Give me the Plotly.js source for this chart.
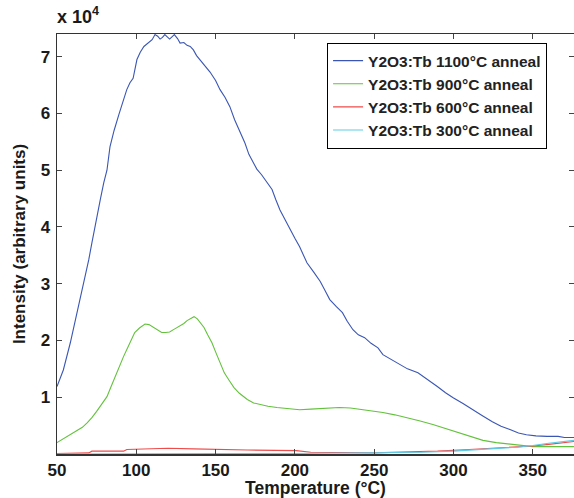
<!DOCTYPE html>
<html>
<head>
<meta charset="utf-8">
<script src="https://cdn.plot.ly/plotly-3.0.1.min.js"></script>
<style>html,body{margin:0;padding:0;background:#fff;}#chart{width:574px;height:498px;}</style>
</head>
<body>
<div id="chart"></div>
<script>
const seriesNames = ["Y2O3:Tb 1100°C anneal", "Y2O3:Tb 900°C anneal", "Y2O3:Tb 600°C anneal", "Y2O3:Tb 300°C anneal"];

const blueX = [50,54,58.4,61,64.7,67,70,72,74.2,77.3,79.5,81.5,83.4,86,89,91.5,94,96,98,100.4,102.5,104.8,106.5,108,110,111.8,113.5,115,116.5,118,119.5,121,122.5,124,126,127.6,130,132,134,136,138,140,143,146.5,150,152.8,156,159,162,165,168.5,171,173.6,176,179,182,185.6,188,190.6,194,197,200,203,205,207.6,212,216,219,222,226,230,233,236.6,240,244,248,252.4,255.5,260,266,271,277.6,284,289.8,295,299.8,306,312,318,324.5,330,335.6,341,346,352,359,366,370,376];
const blueY = [11900,14800,19600,22800,27200,30000,34200,37200,40100,44800,47800,50000,54100,57000,59800,62200,64200,65400,66200,69500,70800,71800,72200,72600,73000,73900,73600,73100,73400,73900,73500,73100,73500,73900,73200,72400,72500,72000,71800,71200,70200,69500,68500,67300,65800,64200,62800,61200,58900,57000,54800,52800,51300,50200,49200,48000,46600,44800,43000,41200,39500,38000,36500,35200,33700,32000,30400,28800,27200,26000,24900,23400,21900,21000,20500,19500,18700,17500,16800,15800,15000,14300,13100,11900,10800,9900,8900,7800,6800,5700,4900,4300,3700,3400,3200,3100,3100,2900,2900];

const greenX = [50,53,56.3,59.5,62.6,66,69,72,75,78,81.5,84,86.6,89,92,95.5,99,102,105.5,108,111,113.5,116,118.5,121,124,127,130,132,134.5,136.4,138.5,140.5,142.7,145,147.7,150,152.8,155.5,158.5,161.6,165,170,174,178,183,188.7,195,200,203,210,218,228,235,243,250,255.5,263,270.7,279,287,295,302,310,318.6,327,335.6,343,350,360,368,376];
const greenY = [2000,2500,3100,3500,4000,4700,5500,6400,7500,8600,10100,11800,13600,15200,17200,19300,21400,22200,22900,22800,22300,21800,21400,21400,21500,22000,22500,23000,23500,23900,24200,23800,23100,22300,21000,19600,18000,16100,14300,13000,11700,10700,9600,9000,8700,8400,8200,8000,7900,7800,7900,8000,8200,8100,7800,7600,7300,6900,6400,5800,5200,4500,3800,3100,2400,2000,1700,1500,1300,1300,1300,1300];

const redX = [50,70,72,92,94,110,120,136,150,170,201,210,250,270,290,310,330,350,360,376];
const redY = [100,200,500,500,800,900,1000,900,800,700,600,300,200,300,500,800,1100,1400,1700,2200];

const cyanX = [50,100,150,200,250,280,300,320,340,350,360,376];
const cyanY = [0,100,100,100,200,300,500,800,1200,1500,1900,2400];

const colors = ["#3a56b4", "#63c23c", "#ee4b4b", "#5ccbe6"];
const xs = [blueX, greenX, redX, cyanX];
const ys = [blueY, greenY, redY, cyanY];

const traces = seriesNames.map((name, i) => ({
  x: xs[i], y: ys[i], name: "<b>" + name + "</b>", type: "scatter", mode: "lines",
  line: {color: colors[i], width: 1.1}
}));

const xTicks = [50,100,150,200,250,300,350];
const yTicks = [10000,20000,30000,40000,50000,60000,70000];
const yTickText = ["1","2","3","4","5","6","7"];

const fontFam = "Liberation Sans";

const layout = {
  width: 574, height: 498,
  margin: {l: 57, r: 0, t: 34, b: 44},
  paper_bgcolor: "#ffffff", plot_bgcolor: "#ffffff",
  showlegend: true,
  legend: {
    x: 0.522, y: 0.979, xanchor: "left", yanchor: "top",
    bgcolor: "#ffffff", bordercolor: "#000000", borderwidth: 1.2,
    font: {family: fontFam, size: 15.5, color: "#222"},
    traceorder: "normal"
  },
  xaxis: {
    range: [50, 376], tickvals: xTicks, ticktext: xTicks.map(v => "<b>" + v + "</b>"),
    ticks: "inside", ticklen: 5, tickcolor: "#444", tickwidth: 1,
    showline: true, linecolor: "#333", linewidth: 1.5, mirror: "ticks",
    showgrid: false, zeroline: false,
    tickfont: {family: fontFam, size: 17, color: "#1a1a1a", weight: 700},
    title: {text: "<b>Temperature (°C)</b>", font: {family: fontFam, size: 17.5, color: "#1a1a1a"}, standoff: 6}
  },
  yaxis: {
    range: [0, 74000], tickvals: yTicks, ticktext: yTickText.map(v => "<b>" + v + "</b>"),
    ticks: "inside", ticklen: 5, tickcolor: "#444", tickwidth: 1,
    showline: true, linecolor: "#333", linewidth: 1.5, mirror: "ticks",
    showgrid: false, zeroline: false,
    tickfont: {family: fontFam, size: 17, color: "#1a1a1a", weight: 700},
    ticklabelstandoff: 2,
    title: {text: "<b>Intensity (arbitrary units)</b>", font: {family: fontFam, size: 17, color: "#1a1a1a"}, standoff: 10}
  },
  annotations: [{
    xref: "paper", yref: "paper", x: -0.003, y: 1.045, xanchor: "left", yanchor: "middle",
    text: "<b>x 10</b><sup><b>4</b></sup>", showarrow: false,
    font: {family: fontFam, size: 18, color: "#1a1a1a"}
  }]
};

Plotly.newPlot("chart", traces, layout, {displayModeBar: false, staticPlot: true});
</script>
</body>
</html>
